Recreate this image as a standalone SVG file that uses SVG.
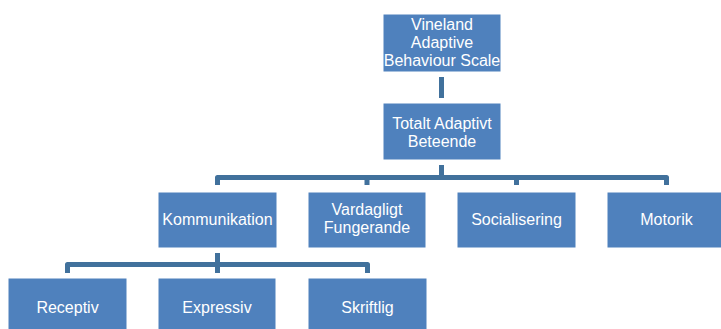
<svg xmlns="http://www.w3.org/2000/svg" width="721" height="329" viewBox="0 0 721 329">
<style>
.box{fill:#4F81BD;stroke:#FFFFFF;stroke-width:1}
.lbl{fill:#FFFFFF;font-family:"Liberation Sans",Arial,sans-serif;font-size:16px;text-anchor:middle}
.con{fill:none;stroke:#41719C;stroke-width:5;stroke-linejoin:round}
</style>
<rect width="721" height="329" fill="#FFFFFF"/>
<g id="connectors">
<path class="con" d="M441.5,77 V98"/>
<path class="con" d="M441.5,165 V177.5"/>
<path class="con" d="M217.5,185 V177.5 H666.5 V185"/>
<path class="con" d="M367,177.5 V185"/>
<path class="con" d="M516.5,177.5 V185"/>
<path class="con" d="M217.5,253 V273"/>
<path class="con" d="M67.5,273 V264.5 H367.5 V273"/>
</g>
<g id="vineland"><rect class="box" x="383" y="14" width="118" height="58"/><text class="lbl" x="442" y="30">Vineland</text><text class="lbl" x="442" y="48">Adaptive</text><text class="lbl" x="442" y="66">Behaviour Scale</text></g>
<g id="totalt"><rect class="box" x="383" y="103" width="118" height="57"/><text class="lbl" x="442" y="129">Totalt Adaptivt</text><text class="lbl" x="442" y="147">Beteende</text></g>
<g id="kommunikation"><rect class="box" x="158" y="192" width="119" height="56"/><text class="lbl" x="217.5" y="225">Kommunikation</text></g>
<g id="vardagligt"><rect class="box" x="308" y="192" width="118" height="56"/><text class="lbl" x="367" y="215">Vardagligt</text><text class="lbl" x="367" y="233">Fungerande</text></g>
<g id="socialisering"><rect class="box" x="457" y="192" width="119" height="56"/><text class="lbl" x="516.5" y="225">Socialisering</text></g>
<g id="motorik"><rect class="box" x="607" y="192" width="119" height="56"/><text class="lbl" x="666.5" y="225">Motorik</text></g>
<g id="receptiv"><rect class="box" x="8" y="278" width="119" height="56"/><text class="lbl" x="67.5" y="313">Receptiv</text></g>
<g id="expressiv"><rect class="box" x="158" y="278" width="118" height="56"/><text class="lbl" x="217" y="313">Expressiv</text></g>
<g id="skriftlig"><rect class="box" x="308" y="278" width="119" height="56"/><text class="lbl" x="367.5" y="313">Skriftlig</text></g>
</svg>
